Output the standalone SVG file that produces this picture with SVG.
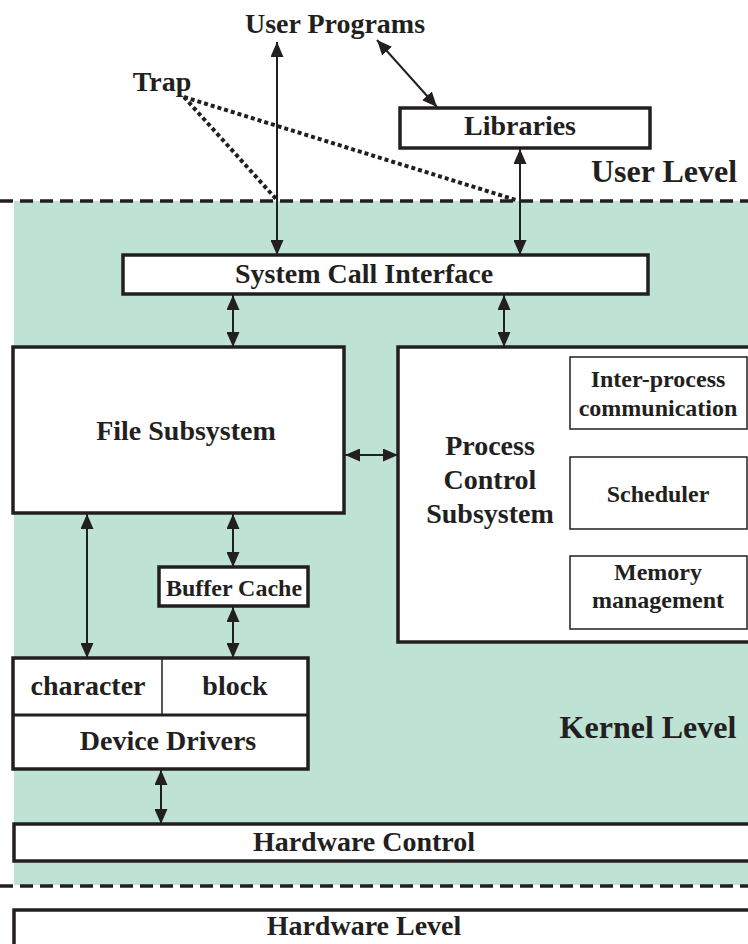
<svg xmlns="http://www.w3.org/2000/svg" width="748" height="944" viewBox="0 0 748 944">
<style>
  .t{font-family:"Liberation Serif","Times New Roman",serif;font-weight:bold;fill:#231f20;text-anchor:middle}
  .f28{font-size:28px}
  .f24{font-size:24px}
  .f32{font-size:32px}
  .box{fill:#fff;stroke:#231f20;stroke-width:3.5}
  .thin{fill:#fff;stroke:#231f20;stroke-width:1.5}
  .arr{stroke:#231f20;stroke-width:2;fill:none;marker-start:url(#ah);marker-end:url(#ah)}
  .dot{stroke:#231f20;stroke-width:4;stroke-dasharray:4 3;fill:none}
  .dash{stroke:#231f20;stroke-width:3.5;stroke-dasharray:13 7;fill:none}
</style>
<defs>
  <marker id="ah" viewBox="0 0 15 13" refX="15" refY="6.5" markerWidth="15" markerHeight="13" markerUnits="userSpaceOnUse" orient="auto-start-reverse">
    <path d="M0,0 L15,6.5 L0,13 z" fill="#231f20"/>
  </marker>
</defs>
<rect width="748" height="944" fill="#fff"/>
<rect id="kernel-bg" x="14" y="201" width="740" height="684" fill="#bee3d4"/>

<g id="levels">
  <line class="dash" x1="0" y1="201" x2="750" y2="201"/>
  <line class="dash" x1="0" y1="886" x2="750" y2="886"/>
  <text class="t f32" x="664" y="182">User Level</text>
  <text class="t f32" x="648" y="738">Kernel Level</text>
</g>

<g id="user-programs"><text class="t f28" x="335" y="33">User Programs</text></g>
<g id="trap"><text class="t f28" x="162" y="91">Trap</text></g>
<g id="libraries">
  <rect class="box" x="400" y="108" width="250" height="40"/>
  <text class="t f28" x="520" y="135">Libraries</text>
</g>
<g id="system-call-interface">
  <rect class="box" x="123" y="255" width="525" height="39"/>
  <text class="t f28" x="364" y="283">System Call Interface</text>
</g>
<g id="file-subsystem">
  <rect class="box" x="13" y="347" width="331" height="166"/>
  <text class="t f28" x="186" y="440">File Subsystem</text>
</g>
<g id="process-control">
  <rect class="box" x="398" y="347" width="360" height="295"/>
  <text class="t f28" x="490" y="455">Process</text>
  <text class="t f28" x="490" y="489">Control</text>
  <text class="t f28" x="490" y="523">Subsystem</text>
</g>
<g id="ipc">
  <rect class="thin" x="570" y="357" width="177" height="72"/>
  <text class="t f24" x="658" y="387">Inter-process</text>
  <text class="t f24" x="658" y="416">communication</text>
</g>
<g id="scheduler">
  <rect class="thin" x="570" y="457" width="177" height="72"/>
  <text class="t f24" x="658" y="502">Scheduler</text>
</g>
<g id="memory">
  <rect class="thin" x="570" y="556" width="177" height="73"/>
  <text class="t f24" x="658" y="580">Memory</text>
  <text class="t f24" x="658" y="608">management</text>
</g>
<g id="buffer-cache">
  <rect class="box" x="159" y="567" width="149" height="39"/>
  <text class="t f24" x="234" y="596">Buffer Cache</text>
</g>
<g id="device-drivers">
  <rect class="box" x="13" y="658" width="295" height="111"/>
  <line stroke="#231f20" stroke-width="3" x1="13" y1="715" x2="308" y2="715"/>
  <line stroke="#231f20" stroke-width="1.5" x1="162" y1="658" x2="162" y2="715"/>
  <text class="t f28" x="88" y="695">character</text>
  <text class="t f28" x="235" y="695">block</text>
  <text class="t f28" x="168" y="750">Device Drivers</text>
</g>
<g id="hardware-control">
  <rect class="box" x="14" y="824" width="744" height="37"/>
  <text class="t f28" x="364" y="851">Hardware Control</text>
</g>
<g id="hardware-level">
  <rect class="box" x="14" y="910" width="744" height="50"/>
  <text class="t f28" x="364" y="935">Hardware Level</text>
</g>

<g id="connectors">
  <line class="arr" x1="277" y1="42" x2="277" y2="255"/>
  <line class="arr" x1="377" y1="40" x2="437" y2="107"/>
  <line class="arr" x1="520" y1="149" x2="520" y2="255"/>
  <line class="dot" x1="184" y1="97" x2="277" y2="200"/>
  <line class="dot" x1="184" y1="97" x2="516" y2="200"/>
  <line class="arr" x1="233" y1="295" x2="233" y2="347"/>
  <line class="arr" x1="504" y1="295" x2="504" y2="347"/>
  <line class="arr" x1="345" y1="455" x2="398" y2="455"/>
  <line class="arr" x1="87" y1="514" x2="87" y2="658"/>
  <line class="arr" x1="233" y1="514" x2="233" y2="567"/>
  <line class="arr" x1="233" y1="607" x2="233" y2="658"/>
  <line class="arr" x1="161" y1="770" x2="161" y2="824"/>
</g>
</svg>
